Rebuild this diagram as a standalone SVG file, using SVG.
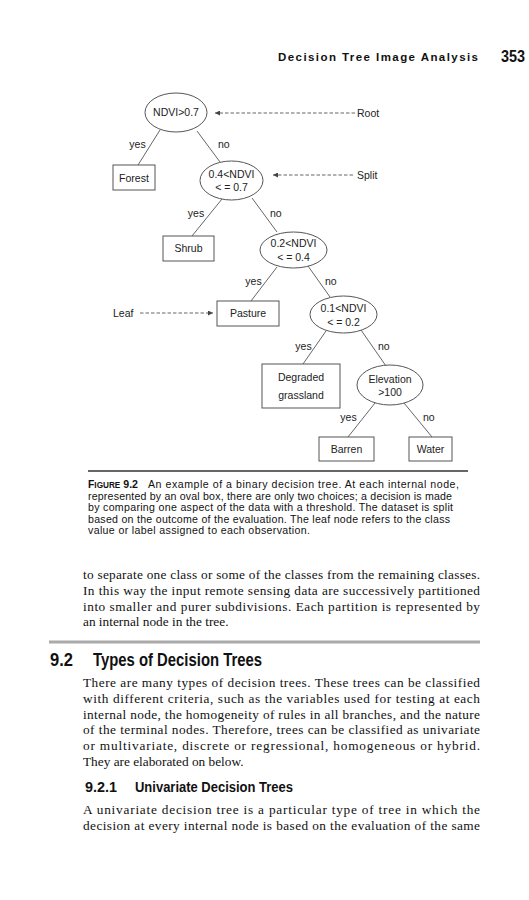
<svg xmlns="http://www.w3.org/2000/svg" width="529" height="900" viewBox="0 0 529 900">
<style>
.bg{fill:#fff}
.node{fill:#fff;stroke:#555;stroke-width:1}
.t{font-family:"Liberation Sans",Arial,sans-serif;font-size:10.5px;fill:#222;text-anchor:middle}
.lbl{font-family:"Liberation Sans",Arial,sans-serif;font-size:10.5px;fill:#222}
.edge{stroke:#555;stroke-width:0.9;fill:none}
.dash{stroke:#555;stroke-width:0.9;stroke-dasharray:3.5 2;fill:none}
.cap{font-family:"Liberation Sans",Arial,sans-serif;font-size:10.6px;fill:#111}
.body{font-family:"Liberation Serif","Times New Roman",serif;font-size:13.3px;fill:#111}
.head{font-family:"Liberation Sans Narrow","Liberation Sans",Arial,sans-serif;font-weight:bold;fill:#111}
</style>
<defs>
<marker id="ah" viewBox="0 0 10 10" refX="10" refY="5" markerWidth="6" markerHeight="5" orient="auto" markerUnits="userSpaceOnUse">
<path d="M0,0 L10,5 L0,10 z" fill="#444"/>
</marker>
</defs>
<rect class="bg" x="0" y="0" width="529" height="900"/>

<!-- running header -->
<text class="head" x="278" y="61" font-size="11.5" textLength="200" lengthAdjust="spacing">Decision Tree Image Analysis</text>
<text class="head" x="501" y="61.5" font-size="17" textLength="24" lengthAdjust="spacingAndGlyphs">353</text>

<!-- connectors -->
<g id="connectors">
<line class="edge" x1="160" y1="130" x2="138" y2="165"/>
<line class="edge" x1="197" y1="131" x2="220" y2="162"/>
<line class="edge" x1="222" y1="199" x2="192" y2="236"/>
<line class="edge" x1="252" y1="198" x2="277" y2="232"/>
<line class="edge" x1="277" y1="267" x2="251" y2="301"/>
<line class="edge" x1="308" y1="266" x2="330" y2="297"/>
<line class="edge" x1="326" y1="331" x2="303" y2="364"/>
<line class="edge" x1="361" y1="330" x2="386" y2="366"/>
<line class="edge" x1="375" y1="403" x2="348" y2="437"/>
<line class="edge" x1="404" y1="403" x2="432" y2="437"/>
<text class="lbl" x="137.5" y="147.5" text-anchor="middle">yes</text>
<text class="lbl" x="218" y="147.5">no</text>
<text class="lbl" x="196" y="216.5" text-anchor="middle">yes</text>
<text class="lbl" x="270" y="216.5">no</text>
<text class="lbl" x="253.5" y="284.5" text-anchor="middle">yes</text>
<text class="lbl" x="325" y="284.5">no</text>
<text class="lbl" x="303.5" y="349.5" text-anchor="middle">yes</text>
<text class="lbl" x="378" y="349.5">no</text>
<text class="lbl" x="348.5" y="420.5" text-anchor="middle">yes</text>
<text class="lbl" x="423" y="420.5">no</text>
<!-- annotation arrows -->
<line class="dash" x1="355" y1="113" x2="215" y2="113" marker-end="url(#ah)"/>
<line class="dash" x1="353" y1="175" x2="273" y2="175" marker-end="url(#ah)"/>
<line class="dash" x1="140" y1="313" x2="213" y2="313" marker-end="url(#ah)"/>
</g>

<g id="root-label"><text class="lbl" x="357" y="117">Root</text></g>
<g id="split-label"><text class="lbl" x="357" y="179">Split</text></g>
<g id="leaf-label"><text class="lbl" x="113" y="317">Leaf</text></g>

<!-- nodes -->
<g id="n-root">
<ellipse class="node" cx="176" cy="112.5" rx="31" ry="19.5"/>
<text class="t" x="176" y="116.3">NDVI&gt;0.7</text>
</g>
<g id="n-forest">
<rect class="node" x="113" y="165" width="42" height="25"/>
<text class="t" x="134" y="181.5">Forest</text>
</g>
<g id="n-split04">
<ellipse class="node" cx="231.5" cy="180.5" rx="31.5" ry="19.5"/>
<text class="t" x="231.5" y="178">0.4&lt;NDVI</text>
<text class="t" x="231.5" y="191">&lt; = 0.7</text>
</g>
<g id="n-shrub">
<rect class="node" x="163" y="236" width="51" height="25"/>
<text class="t" x="188.5" y="252">Shrub</text>
</g>
<g id="n-split02">
<ellipse class="node" cx="293.5" cy="250" rx="33.5" ry="18"/>
<text class="t" x="293.5" y="246.5">0.2&lt;NDVI</text>
<text class="t" x="293.5" y="260.5">&lt; = 0.4</text>
</g>
<g id="n-pasture">
<rect class="node" x="217" y="301" width="62" height="25"/>
<text class="t" x="248" y="317">Pasture</text>
</g>
<g id="n-split01">
<ellipse class="node" cx="343.5" cy="314.5" rx="33.5" ry="18.5"/>
<text class="t" x="343.5" y="311.5">0.1&lt;NDVI</text>
<text class="t" x="343.5" y="325.5">&lt; = 0.2</text>
</g>
<g id="n-degraded">
<rect class="node" x="262" y="364" width="78" height="44"/>
<text class="t" x="301" y="380.5">Degraded</text>
<text class="t" x="301" y="398.5">grassland</text>
</g>
<g id="n-elevation">
<ellipse class="node" cx="390" cy="385" rx="33" ry="20"/>
<text class="t" x="390" y="382.5">Elevation</text>
<text class="t" x="390" y="395.5">&gt;100</text>
</g>
<g id="n-barren">
<rect class="node" x="319" y="437" width="55" height="24"/>
<text class="t" x="346.5" y="452.5">Barren</text>
</g>
<g id="n-water">
<rect class="node" x="409" y="437" width="43" height="24"/>
<text class="t" x="430.5" y="452.5">Water</text>
</g>

<!-- caption -->
<line x1="88" y1="471" x2="468" y2="471" stroke="#333" stroke-width="1.5"/>
<text class="cap" x="88" y="488" font-weight="bold"><tspan font-size="10.4">F</tspan><tspan font-size="8.2">IGURE</tspan> 9.2</text>
<text class="cap" x="148" y="488" textLength="311" lengthAdjust="spacing">An example of a binary decision tree. At each internal node,</text>
<text class="cap" x="88" y="499.5" textLength="364" lengthAdjust="spacing">represented by an oval box, there are only two choices; a decision is made</text>
<text class="cap" x="88" y="511" textLength="365" lengthAdjust="spacing">by comparing one aspect of the data with a threshold. The dataset is split</text>
<text class="cap" x="88" y="522.5" textLength="362" lengthAdjust="spacing">based on the outcome of the evaluation. The leaf node refers to the class</text>
<text class="cap" x="88" y="534" textLength="222" lengthAdjust="spacing">value or label assigned to each observation.</text>

<!-- body paragraph 1 -->
<text class="body" x="83" y="579" textLength="397" lengthAdjust="spacing">to separate one class or some of the classes from the remaining classes.</text>
<text class="body" x="83" y="594.8" textLength="397" lengthAdjust="spacing">In this way the input remote sensing data are successively partitioned</text>
<text class="body" x="83" y="610.6" textLength="397" lengthAdjust="spacing">into smaller and purer subdivisions. Each partition is represented by</text>
<text class="body" x="83" y="626.4">an internal node in the tree.</text>

<line x1="49" y1="642" x2="480" y2="642" stroke="#aaa" stroke-width="3"/>

<text class="head" x="50" y="666" font-size="17.5" textLength="23" lengthAdjust="spacingAndGlyphs">9.2</text>
<text class="head" x="93" y="666" font-size="17.5" textLength="169" lengthAdjust="spacingAndGlyphs">Types of Decision Trees</text>

<!-- body paragraph 2 -->
<text class="body" x="83" y="687" textLength="397" lengthAdjust="spacing">There are many types of decision trees. These trees can be classified</text>
<text class="body" x="83" y="702.8" textLength="397" lengthAdjust="spacing">with different criteria, such as the variables used for testing at each</text>
<text class="body" x="83" y="718.6" textLength="397" lengthAdjust="spacing">internal node, the homogeneity of rules in all branches, and the nature</text>
<text class="body" x="83" y="734.4" textLength="397" lengthAdjust="spacing">of the terminal nodes. Therefore, trees can be classified as univariate</text>
<text class="body" x="83" y="750.2" textLength="397" lengthAdjust="spacing">or multivariate, discrete or regressional, homogeneous or hybrid.</text>
<text class="body" x="83" y="766">They are elaborated on below.</text>

<text class="head" x="85" y="792" font-size="14.5" textLength="32" lengthAdjust="spacingAndGlyphs">9.2.1</text>
<text class="head" x="135" y="792" font-size="14.5" textLength="158" lengthAdjust="spacingAndGlyphs">Univariate Decision Trees</text>

<!-- body paragraph 3 -->
<text class="body" x="83" y="814" textLength="397" lengthAdjust="spacing">A univariate decision tree is a particular type of tree in which the</text>
<text class="body" x="83" y="829.8" textLength="397" lengthAdjust="spacing">decision at every internal node is based on the evaluation of the same</text>
</svg>
